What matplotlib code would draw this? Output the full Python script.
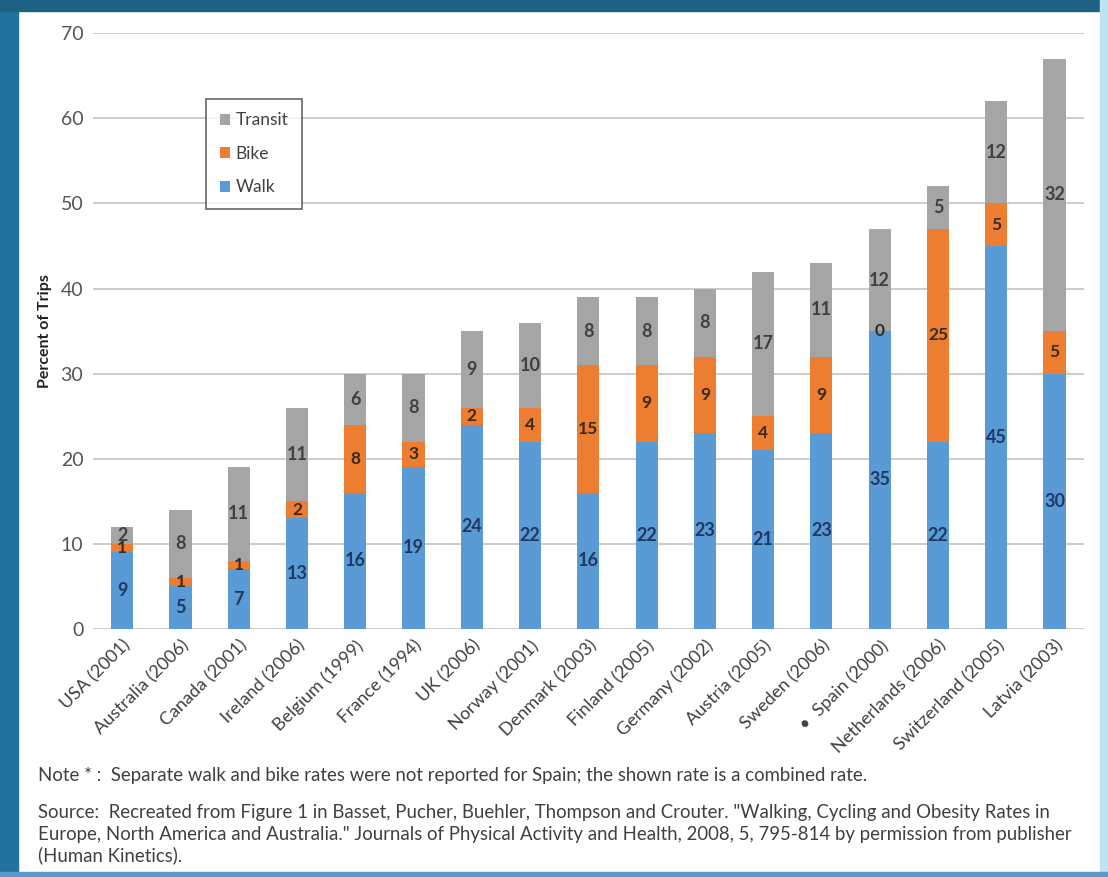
import numpy as np
import matplotlib
matplotlib.use("Agg")
from matplotlib import pyplot as plt
from matplotlib.patches import Rectangle

plt.rcParams['font.family'] = ['Lato', 'DejaVu Sans']

countries = ['USA (2001)', 'Australia (2006)', 'Canada (2001)', 'Ireland (2006)',
             'Belgium (1999)', 'France (1994)', 'UK (2006)', 'Norway (2001)',
             'Denmark (2003)', 'Finland (2005)', 'Germany (2002)', 'Austria (2005)',
             'Sweden (2006)', '•  Spain (2000)', 'Netherlands (2006)',
             'Switzerland (2005)', 'Latvia (2003)']
walk = [9, 5, 7, 13, 16, 19, 24, 22, 16, 22, 23, 21, 23, 35, 22, 45, 30]
bike = [1, 1, 1, 2, 8, 3, 2, 4, 15, 9, 9, 4, 9, 0, 25, 5, 5]
transit = [2, 8, 11, 11, 6, 8, 9, 10, 8, 8, 8, 17, 11, 12, 5, 12, 32]

c_walk = '#5B9BD5'
c_bike = '#ED7D31'
c_transit = '#A5A5A5'

fig = plt.figure(figsize=(11.08, 8.77), dpi=100)
ax = fig.add_axes([0.084, 0.283, 0.894, 0.679])

x = np.arange(len(countries))
w = 0.38
walk = np.array(walk)
bike = np.array(bike)
transit = np.array(transit)

b1 = ax.bar(x, walk, w, color=c_walk, label='Walk', zorder=2)
b2 = ax.bar(x, bike, w, bottom=walk, color=c_bike, label='Bike', zorder=2)
b3 = ax.bar(x, transit, w, bottom=walk + bike, color=c_transit, label='Transit', zorder=2)

ax.bar_label(b1, label_type='center', color='#1F3864', fontsize=13, fontweight='bold')
ax.bar_label(b2, label_type='center', color='#3a2a20', fontsize=12.5, fontweight='bold')
ax.bar_label(b3, label_type='center', color='#404040', fontsize=13, fontweight='bold')

ax.set_ylim(0, 70)
ax.set_xlim(-0.5, len(countries) - 0.5)
ax.set_yticks(range(0, 71, 10))
ax.yaxis.grid(True, color='#C8C8C8', linewidth=1.3, zorder=0)
ax.set_axisbelow(True)
for s in ax.spines.values():
    s.set_visible(False)
ax.tick_params(axis='both', length=0)
ax.tick_params(axis='y', labelsize=14, labelcolor='#555555', pad=7)
ax.set_xticks(x)
ax.set_xticklabels(countries, rotation=45, ha='right', rotation_mode='anchor',
                   fontsize=13, color='#404040')
ax.tick_params(axis='x', pad=6)
ax.set_ylabel('Percent of Trips', fontsize=11.5, fontweight='bold', color='#222222', labelpad=6)

handles = [b3, b2, b1]
leg = ax.legend(handles, ['Transit', 'Bike', 'Walk'], loc='upper left',
                bbox_to_anchor=(0.105, 0.905), frameon=True, fancybox=False,
                handlelength=0.6, handleheight=0.6, handletextpad=0.3,
                labelspacing=1.0, fontsize=12.5, borderpad=0.8)
leg.get_frame().set_edgecolor('#404040')
leg.get_frame().set_linewidth(1.2)
for t in leg.get_texts():
    t.set_color('#404040')

# notes
note_size = 13.4
fig.text(0.034, 0.116, 'Note * :  Separate walk and bike rates were not reported for Spain; the shown rate is a combined rate.',
         fontsize=note_size, color='#404040', va='center')
fig.text(0.034, 0.073, 'Source:  Recreated from Figure 1 in Basset, Pucher, Buehler, Thompson and Crouter. "Walking, Cycling and Obesity Rates in',
         fontsize=note_size, color='#404040', va='center')
fig.text(0.034, 0.049, 'Europe, North America and Australia." Journals of Physical Activity and Health, 2008, 5, 795-814 by permission from publisher',
         fontsize=note_size, color='#404040', va='center')
fig.text(0.034, 0.025, '(Human Kinetics).',
         fontsize=note_size, color='#404040', va='center')

# frame around the picture
fig.patches.append(Rectangle((0, 0), 0.016, 1, transform=fig.transFigure, color='#2272A0', zorder=-1))
fig.patches.append(Rectangle((0, 0.988), 1, 0.012, transform=fig.transFigure, color='#1E6283', zorder=-1))
fig.patches.append(Rectangle((0.993, 0), 0.007, 1, transform=fig.transFigure, color='#BFE3F0', zorder=-1))
fig.patches.append(Rectangle((0, 0), 1, 0.006, transform=fig.transFigure, color='#5A9BD0', zorder=-1))

fig.savefig('out.png', dpi=100)
